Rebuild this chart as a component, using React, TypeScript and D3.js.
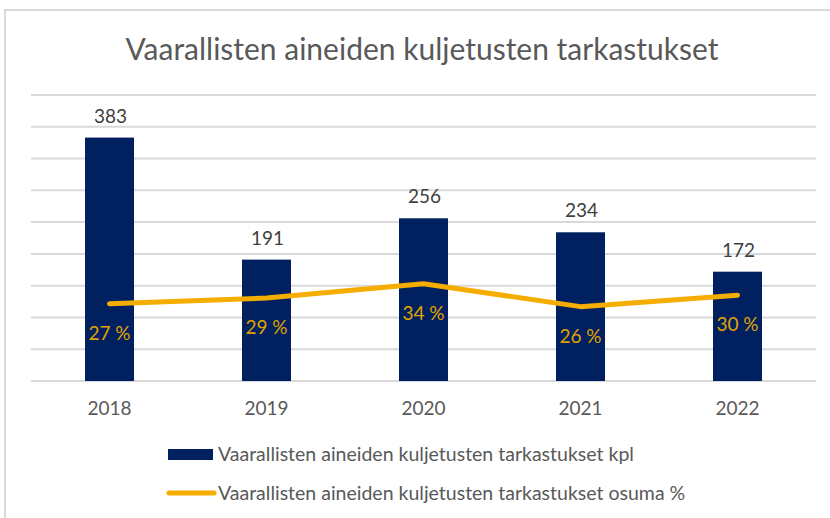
import React, { useEffect, useRef } from "react";
import * as d3 from "d3";

const years = ["2018", "2019", "2020", "2021", "2022"];
const inspections = [383, 191, 256, 234, 172];
const hitRate = [0.27, 0.29, 0.34, 0.26, 0.3];
const hitRateLabels = ["27 %", "29 %", "34 %", "26 %", "30 %"];

const title = "Vaarallisten aineiden kuljetusten tarkastukset";
const barName = "Vaarallisten aineiden kuljetusten tarkastukset kpl";
const lineName = "Vaarallisten aineiden kuljetusten tarkastukset osuma %";

const FONT = "Lato, 'Open Sans', sans-serif";
const NAVY = "#002060";
const GOLD = "#f5ae00";
const GOLD_TEXT = "#e0a300";

const App = () => {
  const ref = useRef<SVGSVGElement>(null);

  useEffect(() => {
    const svg = d3.select(ref.current).attr("width", 830).attr("height", 518);
    svg.selectAll("*").remove();

    const plot = { left: 31, right: 816, top: 95, bottom: 381 };

    // chart frame (goes off the right/bottom edge in the screenshot)
    svg
      .append("rect")
      .attr("x", 5)
      .attr("y", 10)
      .attr("width", 840)
      .attr("height", 520)
      .attr("fill", "#fff")
      .attr("stroke", "#d9d9d9")
      .attr("stroke-width", 2);

    svg
      .append("text")
      .attr("x", 422)
      .attr("y", 60)
      .attr("text-anchor", "middle")
      .attr("font-family", FONT)
      .attr("font-size", 30)
      .attr("fill", "#595959")
      .text(title);

    const x = d3.scaleBand().domain(years).range([plot.left, plot.right]);
    const y = d3.scaleLinear().domain([0, 450]).range([plot.bottom, plot.top]);
    const y2 = d3.scaleLinear().domain([0, 1]).range([plot.bottom, plot.top]);
    const barW = x.bandwidth() * 0.312;
    const cx = (d: string) => (x(d) as number) + x.bandwidth() / 2;

    // gridlines
    svg
      .append("g")
      .selectAll("line")
      .data(y.ticks(9))
      .join("line")
      .attr("x1", plot.left)
      .attr("x2", plot.right)
      .attr("y1", (d) => y(d))
      .attr("y2", (d) => y(d))
      .attr("stroke", "#d9d9d9")
      .attr("stroke-width", 2);

    // bars
    svg
      .append("g")
      .attr("fill", NAVY)
      .selectAll("rect")
      .data(inspections)
      .join("rect")
      .attr("x", (d, i) => cx(years[i]) - barW / 2)
      .attr("y", (d) => y(d))
      .attr("width", barW)
      .attr("height", (d) => y(0) - y(d));

    svg
      .append("g")
      .selectAll("text")
      .data(inspections)
      .join("text")
      .attr("x", (d, i) => cx(years[i]) + 1)
      .attr("y", (d) => y(d) - 15)
      .attr("text-anchor", "middle")
      .attr("font-family", FONT)
      .attr("font-size", 19)
      .attr("fill", "#404040")
      .text((d) => d);

    // x axis labels
    svg
      .append("g")
      .selectAll("text")
      .data(years)
      .join("text")
      .attr("x", (d) => cx(d))
      .attr("y", 415)
      .attr("text-anchor", "middle")
      .attr("font-family", FONT)
      .attr("font-size", 19)
      .attr("fill", "#595959")
      .text((d) => d);

    // hit rate line
    const line = d3
      .line<number>()
      .x((d, i) => cx(years[i]))
      .y((d) => y2(d));

    svg
      .append("path")
      .datum(hitRate)
      .attr("d", line)
      .attr("fill", "none")
      .attr("stroke", GOLD)
      .attr("stroke-width", 5)
      .attr("stroke-linecap", "round")
      .attr("stroke-linejoin", "round");

    svg
      .append("g")
      .selectAll("text")
      .data(hitRate)
      .join("text")
      .attr("x", (d, i) => cx(years[i]))
      .attr("y", (d) => y2(d) + 36)
      .attr("text-anchor", "middle")
      .attr("font-family", FONT)
      .attr("font-size", 19)
      .attr("fill", GOLD_TEXT)
      .text((d, i) => hitRateLabels[i]);

    // legend
    const legend = svg.append("g").attr("font-family", FONT).attr("font-size", 19.5).attr("fill", "#595959");
    legend.append("rect").attr("x", 168).attr("y", 449).attr("width", 45).attr("height", 11).attr("fill", NAVY);
    legend.append("text").attr("x", 218).attr("y", 461).text(barName);
    legend
      .append("line")
      .attr("x1", 169)
      .attr("x2", 214)
      .attr("y1", 493)
      .attr("y2", 493)
      .attr("stroke", GOLD)
      .attr("stroke-width", 5)
      .attr("stroke-linecap", "round");
    legend.append("text").attr("x", 218).attr("y", 500).text(lineName);
  }, []);

  return <svg ref={ref} style={{ position: "absolute", left: 0, top: 0 }}></svg>;
};

export default App;
